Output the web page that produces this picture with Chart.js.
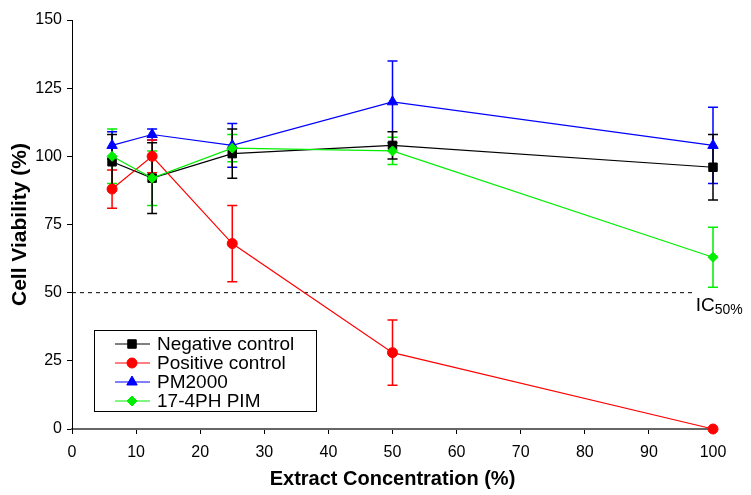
<!DOCTYPE html>
<html>
<head>
<meta charset="utf-8">
<script src="https://cdn.jsdelivr.net/npm/chart.js@4"></script>
<style>
	html, body { margin: 0; padding: 0; background: #fff; }
	#wrap { width: 751px; height: 495px; }
</style>
</head>
<body>
<div id="wrap"><canvas id="js_chart_canvas" width="751" height="495"></canvas></div>
<script>

// Concentrations (%)
const concentrations = [ 6.25, 12.5, 25, 50, 100 ];

// Mean viability (%) per series
const negativeControl = [ 98, 92, 101, 104, 96 ];
const positiveControl = [ 88, 100, 68, 28, 0 ];
const pm2000 = [ 104, 108, 104, 120, 104 ];
const pim174ph = [ 100, 92, 103, 102, 63 ];

// Error (± SD) per series
const negativeControlErr = [ 10, 13, 9, 5, 12 ];
const positiveControlErr = [ 7, 6, 14, 12, 0 ];
const pm2000Err = [ 5, 2, 8, 15, 14 ];
const pim174phErr = [ 10, 10, 5, 5, 11 ];

const seriesNames = [ "Negative control", "Positive control", "PM2000", "17-4PH PIM" ];

const ic50Value = 50;
const ic50End = 97.3;

const fontFamily = "'Liberation Sans', Arial, sans-serif";

function toPoints ( ys ) {
	return concentrations.map( ( x, i ) => ( { x: x, y: ys[ i ] } ) );
}

/*
 |
 | Error bars, IC50 line and the boxed legend
 |
 */
const errorBarPlugin = {
	id: "errorBars",
	beforeDatasetsDraw ( chart ) {
		let ctx = chart.ctx;
		let xs = chart.scales.x, ys = chart.scales.y;

		// IC50 dashed line
		ctx.save();
		ctx.strokeStyle = "#000";
		ctx.lineWidth = 1;
		ctx.setLineDash( [ 4, 4 ] );
		ctx.beginPath();
		ctx.moveTo( xs.getPixelForValue( 0 ), ys.getPixelForValue( ic50Value ) );
		ctx.lineTo( xs.getPixelForValue( ic50End ), ys.getPixelForValue( ic50Value ) );
		ctx.stroke();
		ctx.setLineDash( [] );
		ctx.fillStyle = "#000";
		ctx.textBaseline = "alphabetic";
		ctx.font = "19px " + fontFamily;
		let lx = xs.getPixelForValue( ic50End );
		let ly = ys.getPixelForValue( ic50Value ) + 18;
		ctx.fillText( "IC", lx, ly );
		let w = ctx.measureText( "IC" ).width;
		ctx.font = "14px " + fontFamily;
		ctx.fillText( "50%", lx + w, ly + 3 );
		ctx.restore();

		// Error bars, drawn in reverse so the top series ends on top
		chart.data.datasets.slice().reverse().forEach( function ( ds ) {
			ctx.save();
			ctx.strokeStyle = ds.borderColor;
			ctx.lineWidth = 1.5;
			ds.data.forEach( function ( p, i ) {
				let e = ds.errors[ i ];
				if ( !e ) return;
				let px = xs.getPixelForValue( p.x );
				let top = ys.getPixelForValue( p.y + e );
				let bot = ys.getPixelForValue( p.y - e );
				ctx.beginPath();
				ctx.moveTo( px, top ); ctx.lineTo( px, bot );
				ctx.moveTo( px - 5, top ); ctx.lineTo( px + 5, top );
				ctx.moveTo( px - 5, bot ); ctx.lineTo( px + 5, bot );
				ctx.stroke();
			} );
			ctx.restore();
		} );
	},
	afterDraw ( chart ) {
		let ctx = chart.ctx;
		let left = 94, top = 330, width = 222, height = 81;
		ctx.save();
		ctx.fillStyle = "#fff";
		ctx.fillRect( left, top, width, height );
		ctx.strokeStyle = "#000";
		ctx.lineWidth = 1;
		ctx.strokeRect( left + 0.5, top + 0.5, width, height );
		ctx.font = "19px " + fontFamily;
		ctx.textBaseline = "middle";
		chart.data.datasets.forEach( function ( ds, i ) {
			let cy = top + 14 + i * 19;
			ctx.strokeStyle = ds.borderColor;
			ctx.lineWidth = 1;
			ctx.beginPath();
			ctx.moveTo( left + 21, cy );
			ctx.lineTo( left + 56, cy );
			ctx.stroke();
			ctx.fillStyle = ds.pointBackgroundColor;
			Chart.helpers.drawPoint( ctx, {
				pointStyle: ds.pointStyle,
				radius: ds.pointRadius,
				borderWidth: 1,
				rotation: 0
			}, left + 38, cy );
			ctx.fillStyle = "#000";
			ctx.fillText( ds.label, left + 63, cy + 1 );
		} );
		ctx.restore();
	}
};

function makeDataset ( i, ys, errs, color, style, radius, order ) {
	return {
		label: seriesNames[ i ],
		data: toPoints( ys ),
		errors: errs,
		borderColor: color,
		backgroundColor: color,
		pointBackgroundColor: color,
		pointBorderColor: color,
		borderWidth: 1.2,
		pointBorderWidth: 1,
		pointStyle: style,
		pointRadius: radius,
		pointHoverRadius: radius,
		tension: 0,
		clip: false,
		order: order
	};
}

let chartData = {
	datasets: [
		makeDataset( 0, negativeControl, negativeControlErr, "#000000", "rect", 6, 3 ),
		makeDataset( 1, positiveControl, positiveControlErr, "#ff0000", "circle", 5, 2 ),
		makeDataset( 2, pm2000, pm2000Err, "#0000ff", "triangle", 6, 1 ),
		makeDataset( 3, pim174ph, pim174phErr, "#00ee00", "rectRot", 5, 0 )
	]
};

let tickFont = { family: fontFamily, size: 16 };

let chartScales = {
	x: {
		type: "linear",
		min: 0,
		max: 100,
		border: { display: true, color: "#666", width: 2 },
		grid: { drawOnChartArea: false, drawTicks: true, tickLength: 5, color: "#000" },
		ticks: { stepSize: 10, color: "#000", font: tickFont, padding: 9 },
		title: { display: true, text: "Extract Concentration (%)", color: "#000", font: { family: fontFamily, size: 20, weight: "bold" }, padding: { top: 8 } },
		afterFit ( scale ) { scale.height = 66; }
	},
	y: {
		type: "linear",
		min: 0,
		max: 150,
		border: { display: true, color: "#000", width: 1 },
		grid: { drawOnChartArea: false, drawTicks: true, tickLength: 5, color: "#000" },
		ticks: { stepSize: 25, color: "#000", font: tickFont, padding: 5 },
		title: { display: true, text: "Cell Viability (%)", color: "#000", font: { family: fontFamily, size: 21, weight: "bold" }, padding: { top: 8, bottom: 0 } },
		afterFit ( scale ) { scale.width = 72; }
	}
};

let chartConfig = {
	type: "line",
	data: chartData,
	options: {
		responsive: false,
		animation: false,
		layout: { padding: { top: 20, right: 38, left: 0, bottom: 0 } },
		scales: chartScales,
		plugins: {
			legend: { display: false },
			tooltip: { enabled: false }
		}
	},
	plugins: [ errorBarPlugin ]
};

let chart = new Chart( document.getElementById( "js_chart_canvas" ), chartConfig );

</script>
</body>
</html>
